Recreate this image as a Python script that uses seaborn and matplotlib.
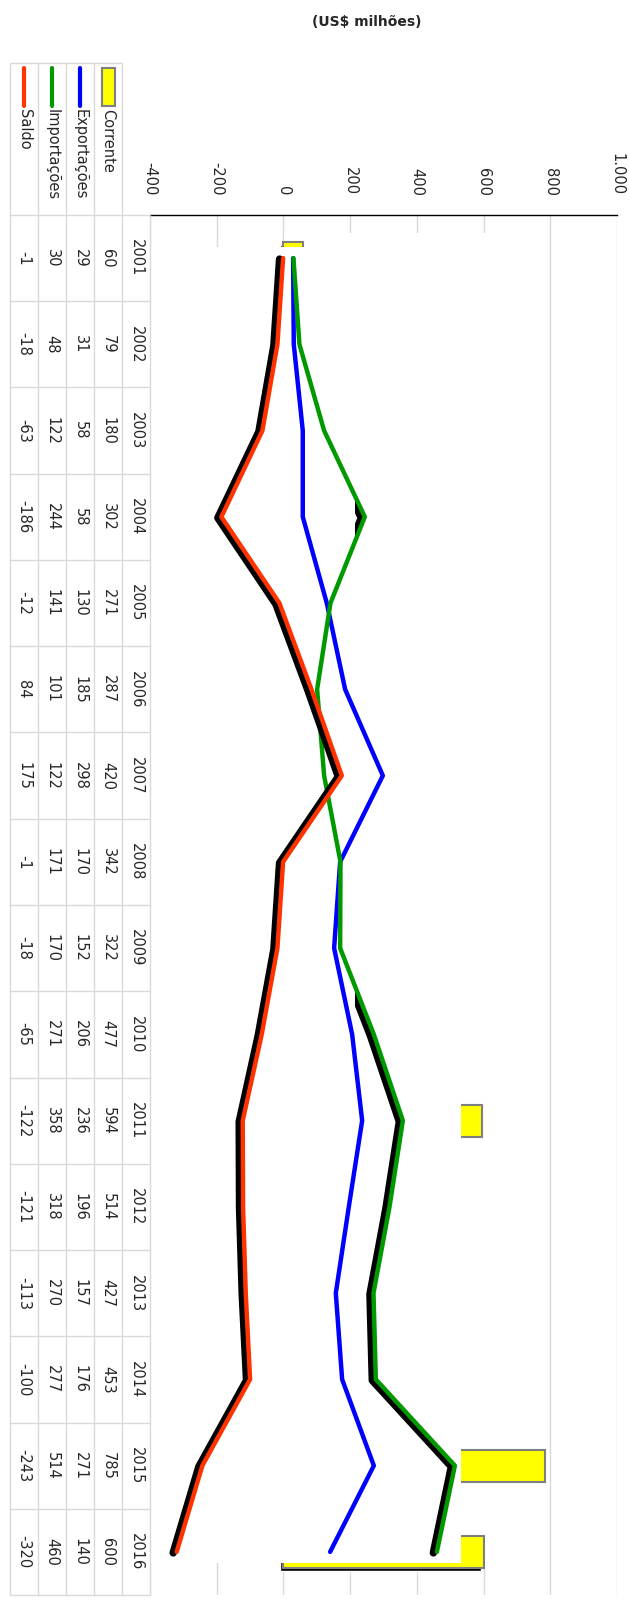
import numpy as np
import pandas as pd
import seaborn as sns
import matplotlib.pyplot as plt
import matplotlib.transforms as mtransforms
from matplotlib.patches import Rectangle
from matplotlib.ticker import FuncFormatter

anos = ["2001", "2002", "2003", "2004", "2005", "2006", "2007", "2008",
        "2009", "2010", "2011", "2012", "2013", "2014", "2015", "2016"]
corrente = [60, 79, 180, 302, 271, 287, 420, 342, 322, 477, 594, 514, 427, 453, 785, 600]
exportacoes = [29, 31, 58, 58, 130, 185, 298, 170, 152, 206, 236, 196, 157, 176, 271, 140]
importacoes = [30, 48, 122, 244, 141, 101, 122, 171, 170, 271, 358, 318, 270, 277, 514, 460]
saldo = [-1, -18, -63, -186, -12, 84, 175, -1, -18, -65, -122, -121, -113, -100, -243, -320]

cores = {"Corrente": "#ffff00", "Exportações": "#0000ff",
         "Importações": "#009900", "Saldo": "#ff3300"}

df = pd.DataFrame({"ano": anos, "pos": np.arange(len(anos)),
                   "Corrente": corrente, "Exportações": exportacoes,
                   "Importações": importacoes, "Saldo": saldo})

sns.set_style("white")
plt.rcParams["font.family"] = ["DejaVu Sans"]

W, H = 629, 1601
fig = plt.figure(figsize=(W / 100, H / 100), dpi=100)


def box(l, t, r, b):
    return [l / W, 1 - b / H, (r - l) / W, (b - t) / H]


ax = fig.add_axes(box(150, 215, 617, 1595))
tax = fig.add_axes(box(10, 215, 150, 1595), sharey=ax)

# bar shadows + bars (Corrente)
sombra_barra = mtransforms.offset_copy(ax.transData, fig=fig, x=-3, y=-3, units="dots")
ax.barh(df["pos"], df["Corrente"], height=0.37, color="black", transform=sombra_barra, zorder=1.4)
sns.barplot(data=df, x="Corrente", y="pos", orient="h", native_scale=True, width=0.37,
            color=cores["Corrente"], saturation=1, edgecolor="#7f7f7f", linewidth=1.5,
            errorbar=None, ax=ax, zorder=2)

# white areas hiding grid and bars (as in the original export)
ax.add_patch(Rectangle((3, -0.29), 787, 15.49, facecolor="white", edgecolor="none", zorder=1.5))
ax.add_patch(Rectangle((-399, -0.13), 931, 15.26, facecolor="white", edgecolor="none", zorder=2.5))

# lines
sombra = mtransforms.offset_copy(ax.transData, fig=fig, x=-3.5, y=-1, units="dots")
sns.lineplot(data=df, x="Exportações", y="pos", orient="y", color=cores["Exportações"],
             lw=3.2, solid_capstyle="round", ax=ax, zorder=3)
l_imp, = ax.plot(df["Importações"], df["pos"], color="black", lw=5.4, transform=sombra,
                 solid_capstyle="round", solid_joinstyle="round", zorder=3.1)
l_imp.set_clip_path(Rectangle((215, -1), 1000, 20, transform=ax.transData))
sns.lineplot(data=df, x="Importações", y="pos", orient="y", color=cores["Importações"],
             lw=3.2, solid_capstyle="round", ax=ax, zorder=3.2)
ax.plot(df["Saldo"], df["pos"], color="black", lw=5.4, transform=sombra,
        solid_capstyle="round", solid_joinstyle="round", zorder=3.3)
sns.lineplot(data=df, x="Saldo", y="pos", orient="y", color=cores["Saldo"],
             lw=3.2, solid_capstyle="round", ax=ax, zorder=3.4)

ax.set_xlim(-400, 1000)
ax.set_ylim(15.5, -0.5)
ax.set_xlabel("")
ax.set_ylabel("")
ax.set_yticks([])
ax.xaxis.tick_top()
ax.set_xticks(np.arange(-400, 1001, 200))
ax.xaxis.set_major_formatter(FuncFormatter(lambda v, p: f"{v:,.0f}".replace(",", ".")))
ax.tick_params(axis="x", top=True, bottom=False, length=0, pad=14,
               labelsize=10.5, labelrotation=-90)
ax.grid(axis="x", color="#d9d9d9", lw=1)
ax.grid(axis="y", visible=False)
ax.set_axisbelow(True)
for s in ["left", "right", "bottom"]:
    ax.spines[s].set_visible(False)
ax.spines["top"].set_color("black")
ax.spines["top"].set_linewidth(1)

# data table on the left
tax.axis("off")
tax.set_xlim(0, 5)
colunas = ["Saldo", "Importações", "Exportações", "Corrente"]
topo = -0.5 - (215 - 63) / 86.25
grade = "#d9d9d9"
tax.hlines(np.arange(-0.5, len(anos)), 0, 5, color=grade, lw=1, clip_on=False)
tax.hlines([topo], 0, 4, color=grade, lw=1, clip_on=False)
tax.vlines(np.arange(0, 5), topo, len(anos) - 0.5, color=grade, lw=1, clip_on=False)
tax.vlines([5], -0.5, len(anos) - 0.5, color=grade, lw=1, clip_on=False)

for i, row in df.iterrows():
    for j, c in enumerate(colunas):
        tax.text(j + 0.5, row["pos"], str(row[c]), rotation=-90, ha="center", va="center",
                 fontsize=10.5, clip_on=False)
    tax.text(4.5, row["pos"], row["ano"], rotation=-90, ha="center", va="center",
             fontsize=10.5, clip_on=False)

k_top = -0.5 - (215 - 68) / 86.25
k_bot = -0.5 - (215 - 106) / 86.25
for j, c in enumerate(colunas):
    if c == "Corrente":
        tax.add_patch(Rectangle((j + 0.29, k_top), 0.46, k_bot - k_top, facecolor=cores[c],
                                edgecolor="#7f7f7f", lw=1.5, clip_on=False))
    else:
        tax.plot([j + 0.5, j + 0.5], [k_top, k_bot], color=cores[c], lw=3,
                 solid_capstyle="round", clip_on=False)
    tax.text(j + 0.5, k_bot + 0.04, c, rotation=-90, ha="center", va="top",
             fontsize=10.5, clip_on=False)

fig.text(367 / W, 1 - 22 / H, "(US$ milhões)", ha="center", va="center",
         fontweight="bold", fontsize=10)

fig.savefig("out.png", dpi=100, facecolor="white")
